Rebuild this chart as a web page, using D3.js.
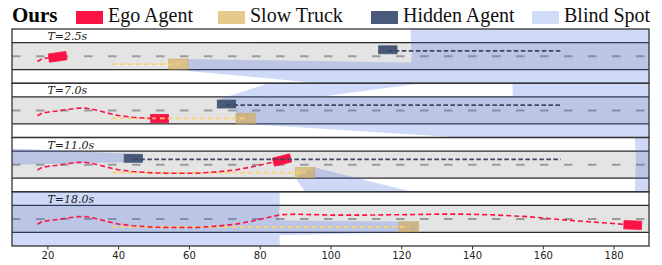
<!DOCTYPE html>
<html>
<head>
<meta charset="utf-8">
<script src="https://cdn.jsdelivr.net/npm/d3@7"></script>
<style>
    body { margin: 0; background: #ffffff; }
    svg { display: block; }
    .tick text { font-family: "DejaVu Sans", sans-serif; font-size: 10px; fill: #222; }
    .tick line { stroke: #333; }
</style>
</head>
<body>
<div id="chart"></div>
<script>
// panel labels and axis ticks
var times = ['T=2.5s', 'T=7.0s', 'T=11.0s', 'T=18.0s'];
var xTicks = [20, 40, 60, 80, 100, 120, 140, 160, 180];

// legend
var legendNames = ['Ego Agent', 'Slow Truck', 'Hidden Agent', 'Blind Spot'];

// ego agent, one entry per panel
var egoX = [22.9, 51.7, 86.3, 185.4];
var egoY = [-0.2, -2.25, 1.27, -1.7];
var egoHeading = [8, 0, 14, -2];
var egoPath = [[17.2, -1.5], [18.5, -0.75], [20, -0.5], [23, -0.15], [26, 0.3], [29, 0.65],
               [31, 0.6], [34, 0.05], [37, -0.75], [40, -1.4], [44, -1.9], [50, -2.3],
               [56, -2.4], [62, -2.4], [68, -2.0], [73, -1.5], [78, -0.6], [82, 0.3],
               [86, 1.15], [90, 1.3], [100, 1.05], [110, 1.05], [120, 1.15], [130, 1.3],
               [138, 1.3], [146, 1.1], [156, 0.6], [166, -0.3], [176, -1.0], [185.4, -1.7]];

// slow truck
var truckX = [57.0, 76.0, 92.8, 122.1];
var truckY = -2.2;
var truckPathStart = 38.2;

// hidden agent (gone from view in the last panel)
var hiddenX = [116.2, 70.6, 44.3, null];
var hiddenY = 1.75;
var hiddenPathY = 1.45;
var hiddenPathEnd = 165.1;

// blind spot polygons per panel
var blindSpots = [
    [[[59.7, -0.8], [190, -2.9], [190, -7.5], [97, -7.5], [54.3, -3.6], [59.7, -3.6]],
     [[122.6, 7.5], [122.9, -0.2], [122.6, -7.5], [190, -7.5], [190, 7.5]]],
    [[[73.3, -0.8], [73.3, 0.65], [96.2, 3.75], [190, 3.75], [190, -7.5], [137, -7.5], [73.3, -3.6]],
     [[68.0, 2.85], [82.5, 7.5], [126, 7.5], [73.2, 0.65]],
     [[151.4, 7.5], [151.7, -2.2], [151.4, -7.5], [190, -7.5], [190, 7.5]]],
    [[[46.9, 2.85], [10, 4.45], [10, 0.0], [41.7, 0.65]],
     [[95.55, -0.8], [123, -7.5], [92.8, -7.5], [90.05, -3.6]],
     [[186.0, 7.5], [186.3, 1.3], [186.0, -7.5], [190, -7.5], [190, 7.5]]],
    [[[10, 7.5], [85.7, 7.5], [85.4, -1.7], [85.7, -7.5], [10, -7.5]],
     [[124.85, -0.8], [10, 0.3], [10, -6.2], [124.85, -3.6]]]
];

var colors = { ego: '#fa1446', truck: '#d4a94f', hidden: '#475878', blind: '#4169e1',
               truckPath: '#ffcf70', hiddenPath: '#3d4760' };

function init()
{
    var width = 662, height = 265;
    var left = 12, right = 649, top = 29, panelH = 54.25;
    var laneHalf = 3.75;
    var egoL = 5, egoW = 2.3, truckL = 5.5, truckW = 2.8, hidL = 5.2, hidW = 2.2;

    var svg = d3.select('#chart').append('svg')
        .attr('width', width).attr('height', height);

    var x = d3.scaleLinear().domain([10, 190]).range([left, right]);

    // legend row
    var serif = '"Liberation Serif", "Times New Roman", serif';
    svg.append('text').attr('x', 12).attr('y', 21.7)
        .attr('font-family', serif).attr('font-weight', 'bold').attr('font-size', 21)
        .text('Ours');
    var legX = [76, 218, 371, 532];
    var legFill = [colors.ego, '#e8c98c', '#4a5a7a', '#cfdbf7'];
    legendNames.forEach(function(name, i)
    {
        svg.append('rect').attr('x', legX[i]).attr('y', 11).attr('width', 27).attr('height', 13)
            .attr('fill', legFill[i]);
        svg.append('text').attr('x', legX[i] + 32).attr('y', 21.7)
            .attr('font-family', serif).attr('font-size', 20).attr('fill', '#111')
            .text(name);
    });

    var defs = svg.append('defs');

    times.forEach(function(label, i)
    {
        var y0 = top + i * panelH;
        var y = d3.scaleLinear().domain([-7.5, 7.5]).range([y0 + panelH, y0]);
        var line = d3.line().x(function(d) { return x(d[0]); }).y(function(d) { return y(d[1]); });

        defs.append('clipPath').attr('id', 'clip' + i).append('rect')
            .attr('x', left).attr('y', y0).attr('width', right - left).attr('height', panelH);

        var g = svg.append('g').attr('clip-path', 'url(#clip' + i + ')');

        // road
        g.append('rect').attr('x', left).attr('width', right - left)
            .attr('y', y(laneHalf)).attr('height', y(-laneHalf) - y(laneHalf))
            .attr('fill', '#e4e4e4');
        g.append('line').attr('x1', x(10)).attr('x2', x(190)).attr('y1', y(0)).attr('y2', y(0))
            .attr('stroke', '#9a9a9a').attr('stroke-width', 2).attr('stroke-dasharray', '8.5,15.5');
        [laneHalf, -laneHalf].forEach(function(v)
        {
            g.append('line').attr('x1', x(10)).attr('x2', x(190)).attr('y1', y(v)).attr('y2', y(v))
                .attr('stroke', '#2a2a2a').attr('stroke-width', 1.2);
        });

        // blind spot, drawn opaque inside a translucent group so overlaps merge
        var bs = g.append('g').attr('opacity', 0.25);
        bs.selectAll('path').data(blindSpots[i]).enter().append('path')
            .attr('d', function(d) { return line(d) + 'Z'; })
            .attr('fill', colors.blind);

        function box(cx, cy, L, W, fill, op, heading)
        {
            var px = x(cx), py = y(cy);
            var w = x(cx + L / 2) - x(cx - L / 2), h = y(cy - W / 2) - y(cy + W / 2);
            g.append('rect').attr('x', px - w / 2).attr('y', py - h / 2)
                .attr('width', w).attr('height', h)
                .attr('fill', fill).attr('fill-opacity', op)
                .attr('stroke', fill).attr('stroke-opacity', op).attr('stroke-width', 0.8)
                .attr('transform', 'rotate(' + (-heading || 0) + ',' + px + ',' + py + ')');
        }

        box(truckX[i], truckY, truckL, truckW, colors.truck, 0.6, 0);
        if (hiddenX[i] !== null)
            box(hiddenX[i], hiddenY, hidL, hidW, colors.hidden, 1, 0);
        box(egoX[i], egoY[i], egoL, egoW, colors.ego, 1, egoHeading[i]);

        // trajectories
        g.append('path').attr('d', line([[truckPathStart, truckY], [truckX[i], truckY]]))
            .attr('fill', 'none').attr('stroke', colors.truckPath).attr('stroke-width', 1.6)
            .attr('stroke-dasharray', '5,3');
        if (hiddenX[i] !== null)
            g.append('path').attr('d', line([[hiddenX[i], hiddenPathY], [hiddenPathEnd, hiddenPathY]]))
                .attr('fill', 'none').attr('stroke', colors.hiddenPath).attr('stroke-width', 1.6)
                .attr('stroke-dasharray', '4.5,2.5');
        var pts = egoPath.filter(function(p) { return p[0] < egoX[i]; });
        pts.push([egoX[i], egoY[i]]);
        g.append('path').attr('d', line(pts))
            .attr('fill', 'none').attr('stroke', colors.ego).attr('stroke-width', 1.6)
            .attr('stroke-dasharray', '5,3');

        // panel title
        svg.append('text').attr('x', x(20)).attr('y', y0 + 11)
            .attr('font-family', '"DejaVu Serif", serif').attr('font-style', 'italic')
            .attr('font-size', 11).attr('fill', '#222')
            .text(label);

        // frame
        svg.append('rect').attr('x', left).attr('y', y0).attr('width', right - left).attr('height', panelH)
            .attr('fill', 'none').attr('stroke', '#333').attr('stroke-width', 1.3);
    });

    var axis = svg.append('g').attr('transform', 'translate(0,' + (top + 4 * panelH) + ')')
        .call(d3.axisBottom(x).tickValues(xTicks).tickSize(3.5).tickPadding(2.5));
    axis.select('.domain').remove();
}
window.addEventListener('load', init, false);
</script>
</body>
</html>
